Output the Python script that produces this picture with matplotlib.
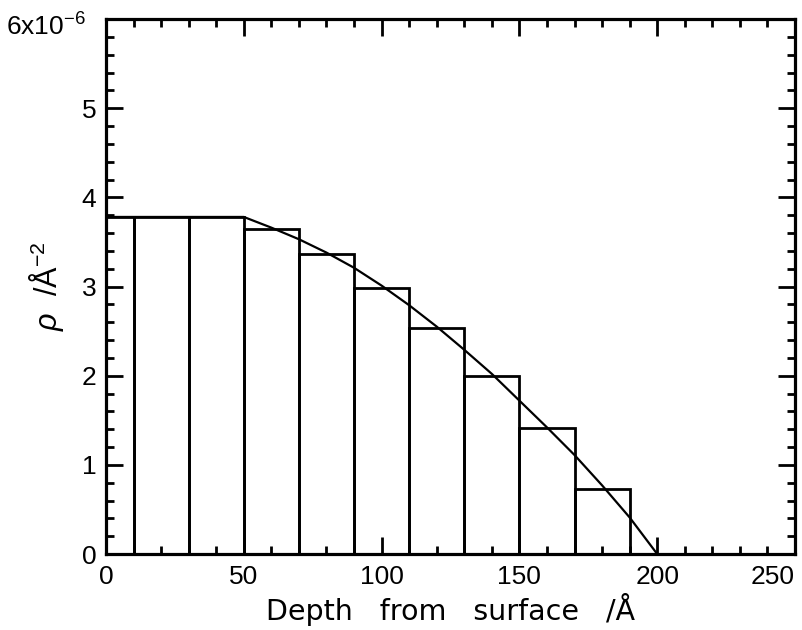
import numpy as np
import matplotlib
matplotlib.use("Agg")
import matplotlib.pyplot as plt
from matplotlib.ticker import MultipleLocator, FixedLocator, FixedFormatter
from matplotlib.transforms import ScaledTranslation

plt.rcParams['font.family'] = ['Liberation Sans', 'DejaVu Sans']
plt.rcParams['mathtext.fontset'] = 'custom'
plt.rcParams['mathtext.rm'] = 'Liberation Sans'
plt.rcParams['mathtext.it'] = 'Liberation Sans:italic'
plt.rcParams['mathtext.bf'] = 'Liberation Sans:bold'

# Data (rho in units of 1e-6 A^-2)
bin_edges = [0, 10, 30, 50, 70, 90, 110, 130, 150, 170, 190]
bar_heights = [3.78, 3.78, 3.78, 3.64, 3.36, 2.98, 2.53, 2.00, 1.41, 0.73]

curve_depth = [0, 50, 60, 70, 80, 90, 100, 110, 120, 130, 140, 150, 160, 170, 180, 190, 200]
curve_rho = [3.78, 3.78, 3.66, 3.53, 3.38, 3.21, 3.01, 2.79, 2.55, 2.29, 2.02, 1.72, 1.42, 1.11, 0.77, 0.41, 0.0]

x_ticks = [0, 50, 100, 150, 200, 250]
y_ticks = [0, 1, 2, 3, 4, 5, 6]
y_tick_labels = ['0', '1', '2', '3', '4', '5', r'$\mathregular{6x10^{-6}}$']

fig = plt.figure(figsize=(8.02, 6.30), dpi=100)
ax = fig.add_axes([106/802, 1 - 554/630, 689/802, 535/630])

edges = np.array(bin_edges, dtype=float)
widths = np.diff(edges)
ax.bar(edges[:-1], bar_heights, width=widths, align='edge', fill=False,
       edgecolor='black', linewidth=2.0, zorder=2)
ax.plot(curve_depth, curve_rho, color='black', linewidth=1.6, zorder=3)

ax.set_xlim(0, 250)
ax.set_ylim(0, 6)
ax.xaxis.set_major_locator(FixedLocator(x_ticks))
ax.xaxis.set_minor_locator(MultipleLocator(10))
ax.yaxis.set_major_locator(FixedLocator(y_ticks))
ax.yaxis.set_major_formatter(FixedFormatter(y_tick_labels))
ax.yaxis.set_minor_locator(MultipleLocator(0.2))

for s in ax.spines.values():
    s.set_linewidth(2.3)

ax.tick_params(which='both', direction='in', top=True, right=True, width=2.0, colors='black')
ax.tick_params(which='major', length=12, labelsize=19)
ax.tick_params(which='minor', length=6)
ax.tick_params(axis='x', which='major', pad=8)
ax.tick_params(axis='y', which='major', pad=7)

for lbl in ax.get_xticklabels() + ax.get_yticklabels():
    lbl.set_family(['Liberation Sans', 'DejaVu Sans'])

# last x tick label sits inside the figure like in the reference
ax.xaxis.get_major_ticks()[-1].label1.set_horizontalalignment('right')

# top y label (with exponent) nudged left/down as in the reference
top_lbl = ax.yaxis.get_major_ticks()[-1].label1
top_lbl.set_transform(top_lbl.get_transform() +
                      ScaledTranslation(-0.10, -0.05, fig.dpi_scale_trans))

ax.set_xlabel('Depth   from   surface   /Å', fontsize=20.5, labelpad=3,
              family=['DejaVu Sans'])
ax.set_ylabel(r'$\rho$  /Å$^{-2}$', fontsize=22)
ax.yaxis.set_label_coords(-0.058, 0.5)

fig.savefig('out.png', dpi=100)
